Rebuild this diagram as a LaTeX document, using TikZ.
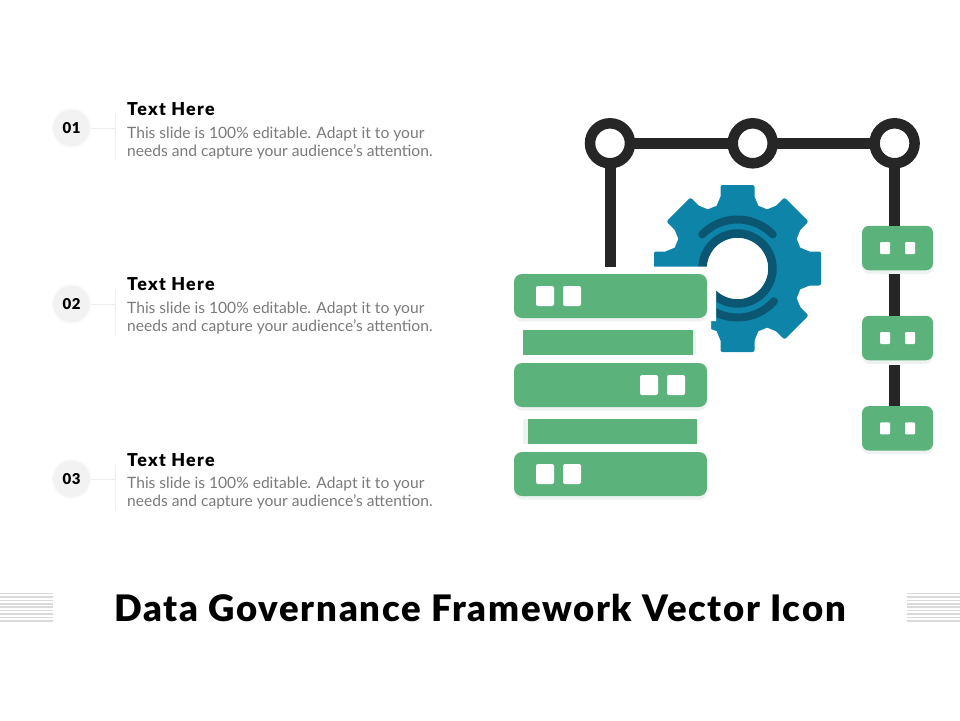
\documentclass[tikz,border=0pt]{standalone}
\usepackage{fontspec}
\setmainfont{Lato}
\newfontfamily\heavyfont[LetterSpace=7.5]{Lato Black}
\newfontfamily\titlefont[LetterSpace=4.7]{Lato Black}
\newfontfamily\numfont[LetterSpace=4]{Lato Black}
\usetikzlibrary{shadows}
\definecolor{grn}{HTML}{5BB27B}
\definecolor{gearblue}{HTML}{0E84A9}
\definecolor{geardark}{HTML}{0B5672}
\definecolor{ink}{HTML}{262626}
\definecolor{shade}{HTML}{EEF2F0}
\definecolor{rule}{HTML}{EDEDED}
\definecolor{stripe}{HTML}{D9D9D9}
\tikzset{
  ringnode/.style={circle,draw=ink,line width=10.5pt,fill=white,minimum size=40pt,inner sep=0pt,outer sep=0pt},
  wire/.style={draw=ink,line width=11pt},
  bigbox/.style={rectangle,rounded corners=8pt,fill=grn,minimum width=193pt,minimum height=44pt,inner sep=0pt,
    drop shadow={shadow xshift=0pt,shadow yshift=-3.5pt,fill=shade,opacity=1}},
  smallbox/.style={rectangle,rounded corners=7pt,fill=grn,minimum width=71pt,minimum height=44.5pt,inner sep=0pt,
    drop shadow={shadow xshift=0pt,shadow yshift=-3.5pt,fill=shade,opacity=1}},
  bar/.style={rectangle,fill=grn,minimum width=170pt,minimum height=25pt,inner sep=0pt},
  bigdot/.style={rectangle,rounded corners=2pt,fill=white,minimum width=18pt,minimum height=20pt,inner sep=0pt},
  smalldot/.style={rectangle,rounded corners=1pt,fill=white,minimum width=10pt,minimum height=12pt,inner sep=0pt},
  numnode/.style={circle,fill=rule!70!white,draw=rule!35!white,line width=1.5pt,minimum size=38pt,inner sep=0pt,font=\fontsize{15}{15}\selectfont\numfont,text=black},
  headtext/.style={anchor=base west,inner sep=0pt,font=\fontsize{17.8}{19}\selectfont\heavyfont,text=black},
  bodytext/.style={anchor=base west,inner sep=0pt,font=\fontsize{15.6}{16}\selectfont,text=black!52},
  thinrule/.style={draw=rule,line width=1pt},
  stripeline/.style={draw=stripe,line width=1.6pt},
  tooth/.style={fill=gearblue,rounded corners=2pt},
}
\begin{document}
\begin{tikzpicture}[x=1pt,y=-1pt]
\useasboundingbox (0,0) rectangle (960,720);
% side stripes
\foreach \k in {0,...,8}{
  \draw[stripeline] (0,{593.5+3.4*\k}) -- (53,{593.5+3.4*\k});
  \draw[stripeline] (907,{593.5+3.4*\k}) -- (960,{593.5+3.4*\k});
}
% numbered items
\foreach \n/\lab/\yc/\yh/\ya/\yb in {a/01/128/115/138/156, b/02/304/290/313/331, c/03/479/466/488/506}{
  \node[numnode] (num\n) at (71.5,\yc) {\lab};
  \coordinate (joint\n) at (115,\yc);
  \coordinate (top\n) at (115,\yc-15);
  \coordinate (bot\n) at (115,\yc+32);
  \draw[thinrule] (num\n.east) -- (joint\n);
  \draw[thinrule] (top\n) -- (bot\n);
  \node[headtext] (head\n) at (127,\yh) {Text Here};
  \node[bodytext] (linea\n) at (127,\ya) {This slide is 100\% editable. Adapt it to your};
  \node[bodytext] (lineb\n) at (127,\yb) {needs and capture your audience's attention.};
}
% gear
\begin{scope}[shift={(737.5,268.5)}]
  \foreach \a in {0,45,...,315}{
    \begin{scope}[rotate=\a]
      \fill[tooth] (-17,0) -- (-17,-83.5) -- (17,-83.5) -- (17,0) -- cycle;
      \fill[gearblue] (-22,-60) -- (-17,-72) -- (17,-72) -- (22,-60) -- cycle;
    \end{scope}
  }
  \fill[gearblue] (0,0) circle (66);
  \fill[white] (0,0) circle (31);
  \draw[geardark,line width=8.5pt] (0,0) circle (35);
  \draw[geardark,line width=8pt,line cap=round] (-44:49) arc[start angle=-44,end angle=-136,radius=49];
  \draw[geardark,line width=8pt,line cap=round] (42:49) arc[start angle=42,end angle=135,radius=49];
\end{scope}
\fill[white] (645,266.7) -- (716,266.7) -- (716,321) -- (711,321) -- (711,362) -- (645,362) -- cycle;
% frame
\node[ringnode] (ca) at (610,143.3) {};
\node[ringnode] (cb) at (752.7,143.3) {};
\node[ringnode] (cc) at (894.6,143.3) {};
\coordinate (stub) at (610,266.7);
\node[smallbox] (ra) at (897.5,248) {};
\node[smallbox] (rb) at (897.5,338) {};
\node[smallbox] (rc) at (897.5,428.3) {};
\draw[wire] (ca) -- (cb);
\draw[wire] (cb) -- (cc);
\draw[wire] (ca) -- (stub);
\coordinate (raTop) at (894.6,226);
\coordinate (raBot) at (894.6,274);
\coordinate (rbTop) at (894.6,316);
\coordinate (rbBot) at (894.6,365);
\coordinate (rcTop) at (894.6,406);
\draw[wire] (cc) -- (raTop);
\draw[wire] (raBot) -- (rbTop);
\draw[wire] (rbBot) -- (rcTop);
\foreach \b/\y in {a/248,b/338,c/428.3}{
  \node[smalldot] (r\b l) at (885,\y) {};
  \node[smalldot] (r\b r) at (910,\y) {};
}
% server stack
\node[rectangle,fill=shade,minimum width=173pt,minimum height=25pt,inner sep=0pt] (bar1s) at (609.5,342.5) {};
\node[bar] (bar1) at (608,342.5) {};
\node[rectangle,fill=shade,minimum width=174pt,minimum height=25pt,inner sep=0pt] (bar2s) at (610,431.5) {};
\node[bar,minimum width=169pt] (bar2) at (612.5,431.5) {};
\node[bigbox] (sa) at (610.5,296) {};
\node[bigbox] (sb) at (610.5,385) {};
\node[bigbox] (sc) at (610.5,474) {};
\node[bigdot] (saa) at (545,296) {};
\node[bigdot] (sab) at (572,296) {};
\node[bigdot] (sba) at (649,385) {};
\node[bigdot] (sbb) at (676,385) {};
\node[bigdot] (sca) at (545,474) {};
\node[bigdot] (scb) at (572,474) {};
% title
\node[anchor=base,inner sep=0pt,font=\fontsize{36.5}{42}\selectfont\titlefont,text=black] (title) at (480,621) {Data Governance Framework Vector Icon};
\end{tikzpicture}
\end{document}
